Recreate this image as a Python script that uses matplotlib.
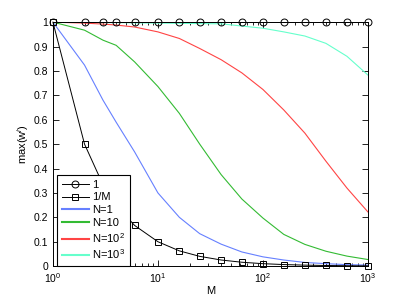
import matplotlib
matplotlib.use('Agg')
import matplotlib.pyplot as plt
import numpy as np

plt.rcParams['font.family'] = ['Liberation Sans', 'DejaVu Sans']
plt.rcParams['mathtext.fontset'] = 'custom'
plt.rcParams['mathtext.rm'] = 'Liberation Sans'
plt.rcParams['mathtext.it'] = 'Liberation Sans:italic'

# M sampled at round(logspace(0,3,16))
M = [1, 2, 3, 4, 6, 10, 16, 25, 40, 63, 100, 158, 251, 398, 631, 1000]
yksi = [1.0] * len(M)
kaanteinen = [1.0 / m for m in M]
n1 = [1.0, 0.824, 0.68, 0.59, 0.468, 0.30, 0.20, 0.133, 0.09, 0.058, 0.038, 0.025, 0.015, 0.010, 0.006, 0.004]
n10 = [1.0, 0.967, 0.926, 0.905, 0.837, 0.736, 0.626, 0.50, 0.375, 0.275, 0.197, 0.13, 0.089, 0.061, 0.041, 0.027]
n100 = [1.0, 0.996, 0.992, 0.988, 0.98, 0.96, 0.933, 0.892, 0.846, 0.792, 0.724, 0.64, 0.545, 0.43, 0.32, 0.222]
n1000 = [1.0, 0.999, 0.998, 0.998, 0.997, 0.996, 0.995, 0.994, 0.993, 0.984, 0.975, 0.96, 0.943, 0.913, 0.86, 0.783]

nimet = ['N=1', 'N=10', 'N=10$^2$', 'N=10$^3$']
varit = ['#6680ff', '#33bb33', '#ff4444', '#66ffcc']

fig = plt.figure(figsize=(4.07, 2.99), dpi=100)
ax = fig.add_axes([0.130, 0.110, 0.774, 0.816])

ax.semilogx(M, yksi, 'k-o', lw=0.7, markersize=5, mfc='none', mew=0.7, label='1', clip_on=False, zorder=5)
ax.semilogx(M, kaanteinen, 'k-s', lw=0.7, markersize=4, mfc='none', mew=0.7, label='1/M', clip_on=False, zorder=5)
for sarja, nimi, vari in zip([n1, n10, n100, n1000], nimet, varit):
    ax.semilogx(M, sarja, color=vari, lw=0.8, label=nimi)

ax.set_xlim(1, 1000)
ax.set_ylim(0, 1)
ax.set_yticks(np.arange(0, 1.01, 0.1))
ax.set_yticklabels(['0', '0.1', '0.2', '0.3', '0.4', '0.5', '0.6', '0.7', '0.8', '0.9', '1'])
ax.tick_params(which='both', direction='in', top=True, right=True, labelsize=7.5, width=0.6)
ax.tick_params(which='major', length=4)
ax.tick_params(which='minor', length=2)
for s in ax.spines.values():
    s.set_linewidth(0.7)
ax.set_xlabel('M', fontsize=8, labelpad=1)
ax.set_ylabel('max(w$^i$)', fontsize=8, labelpad=2)

leg = ax.legend(loc='lower left', bbox_to_anchor=(0.013, 0.0), borderaxespad=0, fontsize=8,
                handlelength=2.4, handletextpad=0.3, borderpad=0.45, labelspacing=0.25,
                fancybox=False, edgecolor='k', framealpha=1)
leg.get_frame().set_linewidth(0.8)
for h in leg.get_lines()[2:]:
    h.set_linewidth(1.5)

plt.savefig('out.png', dpi=100)
